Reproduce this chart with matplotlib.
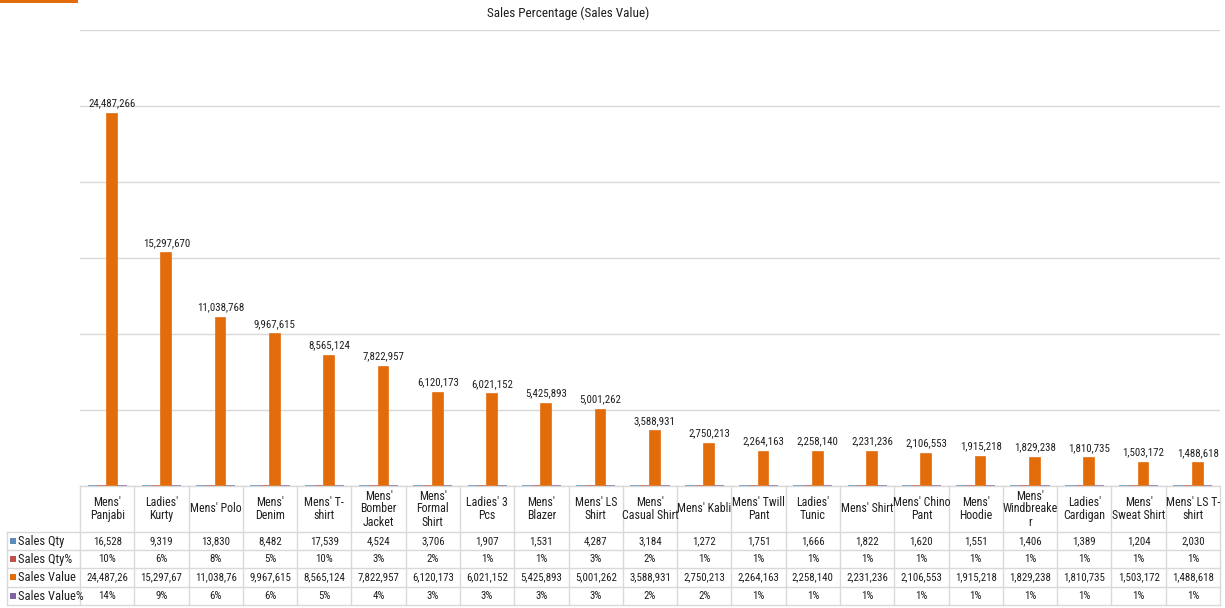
import matplotlib
matplotlib.use("Agg")
import matplotlib.pyplot as plt
from matplotlib.patches import Rectangle

plt.rcParams['font.family'] = ['Roboto Condensed', 'Liberation Sans Narrow', 'Liberation Sans', 'DejaVu Sans']

categories = ["Mens'\nPanjabi", "Ladies'\nKurty", "Mens' Polo", "Mens'\nDenim", "Mens' T-\nshirt",
              "Mens'\nBomber\nJacket", "Mens'\nFormal\nShirt", "Ladies' 3\nPcs", "Mens'\nBlazer",
              "Mens' LS\nShirt", "Mens'\nCasual Shirt", "Mens' Kabli", "Mens' Twill\nPant",
              "Ladies'\nTunic", "Mens' Shirt", "Mens' Chino\nPant", "Mens'\nHoodie",
              "Mens'\nWindbreake\nr", "Ladies'\nCardigan", "Mens'\nSweat Shirt", "Mens' LS T-\nshirt"]
sales_qty = [16528, 9319, 13830, 8482, 17539, 4524, 3706, 1907, 1531, 4287, 3184,
             1272, 1751, 1666, 1822, 1620, 1551, 1406, 1389, 1204, 2030]
sales_qty_pct = [10, 6, 8, 5, 10, 3, 2, 1, 1, 3, 2, 1, 1, 1, 1, 1, 1, 1, 1, 1, 1]
sales_value = [24487266, 15297670, 11038768, 9967615, 8565124, 7822957, 6120173, 6021152,
               5425893, 5001262, 3588931, 2750213, 2264163, 2258140, 2231236, 2106553,
               1915218, 1829238, 1810735, 1503172, 1488618]
sales_value_pct = [14, 9, 6, 6, 5, 4, 3, 3, 3, 3, 2, 2, 1, 1, 1, 1, 1, 1, 1, 1, 1]
series_names = ["Sales Qty", "Sales Qty%", "Sales Value", "Sales Value%"]
y_ticks = [0, 5000000, 10000000, 15000000, 20000000, 25000000, 30000000]

colors = ["#5B8DB8", "#C0504D", "#E36C0A", "#8064A2"]
text_color = "#1E1E1E"
grid_color = "#D9D9D9"

W, H = 1225, 608
fig = plt.figure(figsize=(W / 100, H / 100), dpi=100)

# plot area in pixel terms
px_left, px_right, px_top, px_base = 80, 1220, 30, 486
ax = fig.add_axes([px_left / W, 1 - px_base / H, (px_right - px_left) / W, (px_base - px_top) / H])
n = len(categories)
ax.set_xlim(-0.5, n - 0.5)
ax.set_ylim(y_ticks[0], y_ticks[-1])
ax.set_yticks(y_ticks)
ax.yaxis.grid(True, color=grid_color, linewidth=1)
ax.set_axisbelow(True)
ax.tick_params(left=False, bottom=False, labelleft=False, labelbottom=False)
for s in ax.spines.values():
    s.set_visible(False)

xs = list(range(n))
bw = 0.18
offsets = [-0.27, -0.09, 0.09, 0.27]
all_series = [sales_qty, sales_qty_pct, sales_value, sales_value_pct]
for vals, off, col in zip(all_series, offsets, colors):
    ax.bar([x + off for x in xs], vals, width=bw, color=col, edgecolor=col,
           linewidth=1.2, zorder=3)

# value labels over Sales Value bars
for x, v in zip(xs, sales_value):
    ax.annotate(f"{v:,}", (x + offsets[2], v), xytext=(0, 4), textcoords="offset points",
                ha="center", va="bottom", fontsize=7.8, color=text_color)

# title
fig.text(568 / W, 1 - 13 / H, "Sales Percentage (Sales Value)", ha="center", va="center",
         fontsize=9.5, color=text_color)

# overlay for the data table, in pixel coordinates
tab = fig.add_axes([0, 0, 1, 1], facecolor="none")
tab.set_xlim(0, W)
tab.set_ylim(H, 0)
tab.axis("off")

tab.add_patch(Rectangle((0, 0), 78, 3, color="#E36C0A", lw=0))

col_w = (px_right - px_left) / n
row_edges = [486, 532, 550, 568, 587, 605]
label_left = 7

# horizontal rules
tab.plot([px_left, px_right], [row_edges[0]] * 2, color=grid_color, lw=1)
for y in row_edges[1:]:
    tab.plot([label_left, px_right], [y, y], color=grid_color, lw=1)
# vertical rules
tab.plot([label_left, label_left], [row_edges[1], row_edges[-1]], color=grid_color, lw=1)
for i in range(n + 1):
    xv = px_left + i * col_w
    tab.plot([xv, xv], [row_edges[0], row_edges[-1]], color=grid_color, lw=1)

# header cells
for i, name in enumerate(categories):
    cx = px_left + (i + 0.5) * col_w
    tab.text(cx, (row_edges[0] + row_edges[1]) / 2, name, ha="center", va="center",
             fontsize=8.6, color=text_color, linespacing=1.0)

row_texts = [
    [f"{v:,}" for v in sales_qty],
    [f"{v}%" for v in sales_qty_pct],
    [f"{v:,}"[:9] for v in sales_value],
    [f"{v}%" for v in sales_value_pct],
]
for r, (name, col, texts) in enumerate(zip(series_names, colors, row_texts)):
    cy = (row_edges[r + 1] + row_edges[r + 2]) / 2
    tab.add_patch(Rectangle((10, cy - 3.5), 6, 6, color=col, lw=0))
    tab.text(18, cy, name, ha="left", va="center", fontsize=9, color=text_color)
    for i, t in enumerate(texts):
        cx = px_left + (i + 0.5) * col_w
        tab.text(cx, cy, t, ha="center", va="center", fontsize=7.8, color=text_color)

fig.savefig("out.png", dpi=100, facecolor="white")
